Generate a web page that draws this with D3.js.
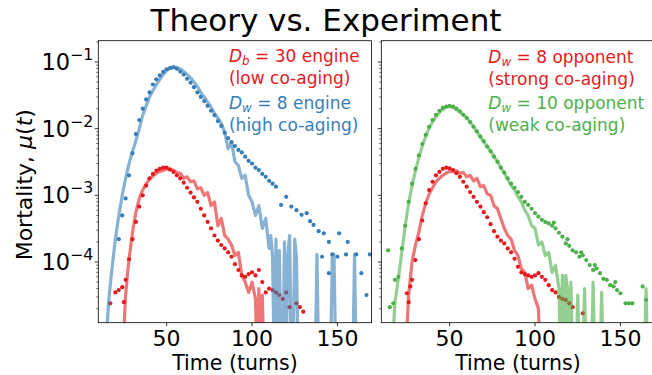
<!DOCTYPE html>
<html lang="en">
<head>
<meta charset="UTF-8">
<title>Theory vs. Experiment</title>
<script src="https://cdn.jsdelivr.net/npm/d3@7"></script>
<style>
  body { margin: 0; background: #fff; }
  svg { font-family: "DejaVu Sans", sans-serif; }
</style>
</head>
<body>
<svg id="chart" width="652" height="375"></svg>
<script>
// ---- data: [turn, mortality] pairs (0 = no deaths) ----
const blueTheory = [[14,0],[16,2.5e-5],[18,8e-5],[20,2.2e-4],[22,5e-4],[24,1e-3],[26,1.8e-3],[28,3e-3],[30,4.5e-3],[32,6.6e-3],[34,1e-2],[36,1.6e-2],[38,2.2e-2],[40,3e-2],[42,3.7e-2],[44,4.6e-2],[46,5.5e-2],[48,6.5e-2],[50,7.4e-2],[52,8.1e-2],[54,8.5e-2],[56,8.3e-2],[58,7.9e-2],[60,7.2e-2],[62,6.5e-2],[64,5.8e-2],[66,5e-2],[68,4.3e-2],[70,3.5e-2],[72,3e-2],[74,2.5e-2],[76,2.1e-2],[78,1.7e-2],[80,1.45e-2],[82,1.2e-2],[84,8.9e-3],[86,5e-3],[88,6.3e-3],[90,3.2e-3],[92,2.8e-3],[94,1.8e-3],[96,2e-3],[98,1e-3],[100,8e-4],[102,5e-4],[104,7e-4],[106,3.2e-4],[108,4.5e-4],[110,1.6e-4],[111,2.5e-4],[112,1.2e-4],[113,0],[114,2.2e-4],[115,0],[116,1.5e-4],[117,0],[118,0],[119,2e-4],[120,0],[121,1.3e-4],[122,2.5e-4],[123,0],[124,0],[125,2.2e-4],[126,1.2e-4],[127,0],[137,0],[138,1.3e-4],[139,0],[146,0],[147,1.3e-4],[148,1.3e-4],[149,0],[159,0],[160,1.3e-4],[161,0],[170,0]];
const blueExp = [[22,2.2e-4],[24,5e-4],[26,9e-4],[28,2e-3],[30,4.3e-3],[32,8.3e-3],[34,1.35e-2],[36,2e-2],[38,2.75e-2],[40,3.5e-2],[42,4.6e-2],[44,5.5e-2],[46,6.3e-2],[48,7.1e-2],[50,7.8e-2],[52,8.1e-2],[54,8.3e-2],[56,7.9e-2],[58,7.2e-2],[60,6.5e-2],[62,5.6e-2],[64,4.9e-2],[66,4.2e-2],[68,3.5e-2],[70,3e-2],[72,2.6e-2],[74,2.2e-2],[76,1.86e-2],[78,1.6e-2],[80,1.3e-2],[82,1.1e-2],[84,8.7e-3],[86,7.2e-3],[88,6.3e-3],[90,5.5e-3],[92,4.8e-3],[94,4.4e-3],[96,3.8e-3],[98,3.3e-3],[100,3e-3],[102,2.6e-3],[104,2.4e-3],[106,2.1e-3],[108,1.9e-3],[110,1.65e-3],[112,1.5e-3],[114,1.35e-3],[117,7.2e-4],[120,9.5e-4],[123,6.8e-4],[126,6e-4],[129,5.1e-4],[132,5.4e-4],[134,4.1e-4],[136,3.6e-4],[139,2.9e-4],[141,1.2e-4],[142,2.7e-4],[145,2e-4],[145,6.8e-5],[147,1.3e-4],[150,1.2e-4],[151,2.7e-4],[155,1.3e-4],[156,2e-4],[161,1.3e-4],[164,6.8e-5],[167,3.2e-5],[169,1.3e-4]];
const redEngineTheory = [[24,0],[26,3.2e-5],[27,6.3e-5],[28,1.1e-4],[30,2.8e-4],[32,5.6e-4],[34,9e-4],[36,1.2e-3],[38,1.5e-3],[40,1.75e-3],[42,1.95e-3],[44,2.15e-3],[46,2.3e-3],[48,2.35e-3],[50,2.5e-3],[52,2.4e-3],[54,2.4e-3],[56,2.2e-3],[58,2.15e-3],[60,1.8e-3],[62,1.9e-3],[64,1.6e-3],[66,1.65e-3],[68,1.25e-3],[70,1.3e-3],[72,1e-3],[74,1.1e-3],[76,7e-4],[78,8e-4],[80,3.5e-4],[82,4.5e-4],[84,2.5e-4],[86,2.2e-4],[88,1.8e-4],[90,1.25e-4],[92,1.4e-4],[94,6.3e-5],[96,5e-5],[98,3.5e-5],[100,5e-5],[102,2.8e-5],[103,0],[104,4e-5],[105,0],[106,3.2e-5],[107,0],[170,0]];
const redEngineExp = [[17,2.4e-5],[20,3.5e-5],[22,3.8e-5],[24,4.2e-5],[25,2.5e-5],[26,5.4e-5],[28,1.1e-4],[30,2.2e-4],[32,4e-4],[34,6.8e-4],[36,1e-3],[38,1.4e-3],[40,1.8e-3],[42,2.1e-3],[44,2.35e-3],[46,2.5e-3],[48,2.6e-3],[50,2.6e-3],[52,2.45e-3],[54,2.25e-3],[56,2e-3],[58,1.8e-3],[60,1.55e-3],[62,1.3e-3],[64,1.1e-3],[66,9.3e-4],[68,8e-4],[70,6.3e-4],[72,5e-4],[74,4e-4],[76,3.2e-4],[78,2.5e-4],[80,2.1e-4],[82,1.8e-4],[84,1.6e-4],[86,1.4e-4],[88,1.2e-4],[90,9.3e-5],[92,7.6e-5],[94,6.3e-5],[96,6e-5],[98,6.6e-5],[100,7e-5],[102,6.3e-5],[104,7.6e-5],[106,5e-5],[108,3.5e-5],[110,4e-5],[112,3.8e-5],[114,3.5e-5],[116,3.2e-5],[118,2.8e-5],[120,3.5e-5],[122,2.1e-5],[126,2.4e-5],[128,2.1e-5],[130,1.8e-5]];
const greenTheory = [[16,0],[18,2.5e-5],[20,5.6e-5],[22,1.4e-4],[24,3.5e-4],[26,7.6e-4],[28,1.4e-3],[30,2.35e-3],[32,3.7e-3],[34,5.5e-3],[36,7.6e-3],[38,1.02e-2],[40,1.26e-2],[42,1.5e-2],[44,1.74e-2],[46,1.95e-2],[48,2.1e-2],[50,2.15e-2],[52,2.1e-2],[54,1.95e-2],[56,1.8e-2],[58,1.62e-2],[60,1.45e-2],[62,1.26e-2],[64,1.07e-2],[66,8.9e-3],[68,7.6e-3],[70,6.3e-3],[72,5.4e-3],[74,4.6e-3],[76,3.8e-3],[78,3.2e-3],[80,2.6e-3],[82,2.15e-3],[84,1.75e-3],[86,1.4e-3],[88,1.2e-3],[90,9.5e-4],[92,8e-4],[94,6e-4],[96,5e-4],[98,3.5e-4],[100,3.2e-4],[102,1.8e-4],[104,2e-4],[106,1.25e-4],[108,1.4e-4],[110,7e-5],[112,9e-5],[114,4e-5],[115,0],[116,6.3e-5],[117,0],[118,6.3e-5],[119,4e-5],[120,0],[121,5e-5],[122,0],[124,0],[125,3.2e-5],[126,0],[128,0],[129,4e-5],[130,0],[133,0],[134,5e-5],[135,0],[138,0],[139,3.5e-5],[140,0],[164,0],[165,4e-5],[166,0],[170,0]];
const greenExp = [[14,1.5e-4],[15,2.1e-5],[17,2.4e-5],[18,5.4e-5],[20,6e-5],[22,1.6e-4],[24,3.5e-4],[26,8e-4],[28,1.5e-3],[30,2.5e-3],[32,4e-3],[34,5.9e-3],[36,8.1e-3],[38,1.07e-2],[40,1.35e-2],[42,1.62e-2],[44,1.86e-2],[46,2.05e-2],[48,2.15e-2],[50,2.2e-2],[52,2.15e-2],[54,2e-2],[56,1.82e-2],[58,1.62e-2],[60,1.45e-2],[62,1.26e-2],[64,1.07e-2],[66,9.1e-3],[68,7.6e-3],[70,6.5e-3],[72,5.4e-3],[74,4.6e-3],[76,3.8e-3],[78,3.2e-3],[80,2.6e-3],[82,2.2e-3],[84,1.8e-3],[86,1.5e-3],[88,1.3e-3],[90,1.12e-3],[92,9.5e-4],[94,8e-4],[96,7.2e-4],[98,6.3e-4],[100,5.4e-4],[102,4.8e-4],[104,4.3e-4],[106,4e-4],[108,3.8e-4],[110,3.5e-4],[111,3.9e-4],[112,3.2e-4],[114,2.75e-4],[116,2.4e-4],[118,1.9e-4],[119,2.2e-4],[120,1.75e-4],[122,1.5e-4],[124,1.4e-4],[126,1.2e-4],[127,1.4e-4],[128,1.26e-4],[130,1.07e-4],[132,9e-5],[134,7.6e-5],[135,9e-5],[136,8e-5],[138,6.8e-5],[140,5.6e-5],[142,5.4e-5],[144,4.5e-5],[146,4.3e-5],[147,5e-5],[148,3.8e-5],[150,3.4e-5],[153,2.4e-5],[155,2.4e-5],[157,2.4e-5],[163,4.3e-5],[165,2.7e-5]];
const redOppTheory = [[24,0],[26,3.2e-5],[28,1e-4],[30,1.8e-4],[32,2.8e-4],[34,5e-4],[36,7.6e-4],[38,1.05e-3],[40,1.3e-3],[42,1.6e-3],[44,1.8e-3],[46,2e-3],[48,2.15e-3],[50,2.3e-3],[52,2.25e-3],[54,2.35e-3],[56,2.15e-3],[58,2.2e-3],[60,1.9e-3],[62,2e-3],[64,1.65e-3],[66,1.8e-3],[68,1.35e-3],[70,1.4e-3],[72,1.05e-3],[74,1e-3],[76,7e-4],[78,6.3e-4],[80,4.5e-4],[82,3.2e-4],[84,2.5e-4],[86,2.2e-4],[88,1.5e-4],[90,1.25e-4],[92,8e-5],[94,7e-5],[96,4e-5],[98,4.5e-5],[100,2.8e-5],[102,2e-5],[103,0],[170,0]];
const redOppExp = [[25,3.4e-5],[26,2.5e-5],[27,4.3e-5],[28,5.4e-5],[30,1.07e-4],[32,2.2e-4],[34,4.2e-4],[36,7.6e-4],[38,1.2e-3],[40,1.6e-3],[42,2e-3],[44,2.25e-3],[46,2.5e-3],[48,2.6e-3],[50,2.55e-3],[52,2.4e-3],[54,2.15e-3],[56,1.9e-3],[58,1.6e-3],[60,1.35e-3],[62,1.12e-3],[64,9.5e-4],[66,8e-4],[68,6.8e-4],[70,5.6e-4],[72,4.7e-4],[74,3.7e-4],[76,2.9e-4],[78,2.4e-4],[80,2.1e-4],[82,1.9e-4],[84,1.6e-4],[86,1.4e-4],[88,1.12e-4],[90,8.5e-5],[92,7e-5],[94,6.6e-5],[96,6.3e-5],[98,6e-5],[100,6.3e-5],[102,6.8e-5],[104,6e-5],[106,5.4e-5],[108,4.5e-5],[110,3.8e-5],[112,3.5e-5],[114,3e-5],[116,2.8e-5],[118,2.7e-5],[120,2.4e-5],[122,2.1e-5],[128,1.7e-5]];

const xTicks = [50, 100, 150];
const yTickExps = [-1, -2, -3, -4];

const RED = '#e41a1c', BLUE = '#377eb8', GREEN = '#4daf4a';

// ---- layout ----
const left0 = 98.3, topM = 40.7, plotH = 282, panelW = 273.3, gap = 9.7;
const FS = 22.5;

const svg = d3.select('#chart');
const x = d3.scaleLinear().domain([10, 170]).range([0, panelW]);
const y = d3.scaleLog().domain([Math.pow(10, -4.91), Math.pow(10, -0.68)]).range([plotH, 0]);
const yv = v => v > 0 ? y(v) : plotH + 40;

svg.append('text')
  .attr('x', 326).attr('y', 31)
  .attr('text-anchor', 'middle')
  .attr('font-size', 31)
  .text('Theory vs. Experiment');

// y label
const yl = svg.append('text')
  .attr('transform', 'translate(32,' + (topM + plotH / 2 + 3) + ') rotate(-90)')
  .attr('text-anchor', 'middle')
  .attr('font-size', 22);
yl.append('tspan').text('Mortality, ');
yl.append('tspan').attr('font-style', 'italic').text('μ');
yl.append('tspan').text('(');
yl.append('tspan').attr('font-style', 'italic').text('t');
yl.append('tspan').text(')');

// two-line annotation
function note(g, n) {
  const t = g.append('text').attr('x', n.x).attr('y', n.y)
    .attr('font-size', 17).attr('fill', n.color);
  t.append('tspan').attr('font-style', 'italic').text(n.sym);
  t.append('tspan').attr('font-style', 'italic').attr('font-size', '0.7em').attr('dy', 3).text(n.sub);
  t.append('tspan').attr('dy', -3).text(n.rest);
  g.append('text').attr('x', n.x).attr('y', n.y + 22)
    .attr('font-size', 17).attr('fill', n.color).text(n.line2);
}

function panel(idx, layers, notes, showYLabels) {
  const ox = left0 + idx * (panelW + gap);
  const g = svg.append('g').attr('transform', 'translate(' + ox + ',' + topM + ')');
  const cid = 'clip' + idx;
  g.append('clipPath').attr('id', cid)
    .append('rect').attr('width', panelW).attr('height', plotH);
  const plot = g.append('g').attr('clip-path', 'url(#' + cid + ')');

  const line = d3.line().x(d => x(d[0])).y(d => yv(d[1]));
  layers.forEach(L => {
    if (L.type === 'line') {
      plot.append('path').datum(L.data)
        .attr('d', line)
        .attr('fill', 'none')
        .attr('stroke', L.color)
        .attr('stroke-opacity', 0.6)
        .attr('stroke-width', 3.2)
        .attr('stroke-linejoin', 'round');
    } else {
      plot.append('g').selectAll('circle')
        .data(L.data.filter(d => d[1] > 0))
        .join('circle')
        .attr('cx', d => x(d[0]))
        .attr('cy', d => y(d[1]))
        .attr('r', 2.1)
        .attr('fill', L.color);
    }
  });

  notes.forEach(n => note(g, n));

  // frame
  g.append('rect').attr('width', panelW).attr('height', plotH)
    .attr('fill', 'none').attr('stroke', '#000').attr('stroke-width', 0.8);

  // x ticks
  xTicks.forEach(t => {
    g.append('line').attr('x1', x(t)).attr('x2', x(t))
      .attr('y1', plotH).attr('y2', plotH + 3.5)
      .attr('stroke', '#000').attr('stroke-width', 0.8);
    g.append('text').attr('x', x(t)).attr('y', plotH + 23)
      .attr('text-anchor', 'middle').attr('font-size', 22).text(t);
  });
  g.append('text').attr('x', panelW / 2).attr('y', plotH + 47.3)
    .attr('text-anchor', 'middle').attr('font-size', 20.5).text('Time (turns)');

  // y ticks (log, with minor ticks)
  y.ticks().forEach(v => {
    const major = Math.abs(Math.log10(v) - Math.round(Math.log10(v))) < 1e-9;
    g.append('line').attr('x1', 0).attr('x2', major ? -3.5 : -2)
      .attr('y1', y(v)).attr('y2', y(v))
      .attr('stroke', '#000').attr('stroke-width', major ? 0.8 : 0.6);
  });
  if (showYLabels) {
    yTickExps.forEach(e => {
      const t = g.append('text').attr('x', -5).attr('y', y(Math.pow(10, e)) + 8)
        .attr('text-anchor', 'end').attr('font-size', FS);
      t.append('tspan').text('10');
      t.append('tspan').attr('font-size', '0.7em').attr('dy', -10).text('\u2212' + (-e));
    });
  }
}

panel(0, [
  {type: 'line', data: redEngineTheory, color: RED},
  {type: 'dots', data: redEngineExp, color: RED},
  {type: 'line', data: blueTheory, color: BLUE},
  {type: 'dots', data: blueExp, color: BLUE}
], [
  {x: 130.7, y: 21, color: RED, sym: 'D', sub: 'b', rest: ' = 30 engine', line2: '(low co-aging)'},
  {x: 130.7, y: 68.5, color: BLUE, sym: 'D', sub: 'w', rest: ' = 8 engine', line2: '(high co-aging)'}
], true);

panel(1, [
  {type: 'line', data: redOppTheory, color: RED},
  {type: 'dots', data: redOppExp, color: RED},
  {type: 'line', data: greenTheory, color: GREEN},
  {type: 'dots', data: greenExp, color: GREEN}
], [
  {x: 107, y: 22, color: RED, sym: 'D', sub: 'w', rest: ' = 8 opponent', line2: '(strong co-aging)'},
  {x: 107, y: 68.5, color: GREEN, sym: 'D', sub: 'w', rest: ' = 10 opponent', line2: '(weak co-aging)'}
], false);
</script>
</body>
</html>
